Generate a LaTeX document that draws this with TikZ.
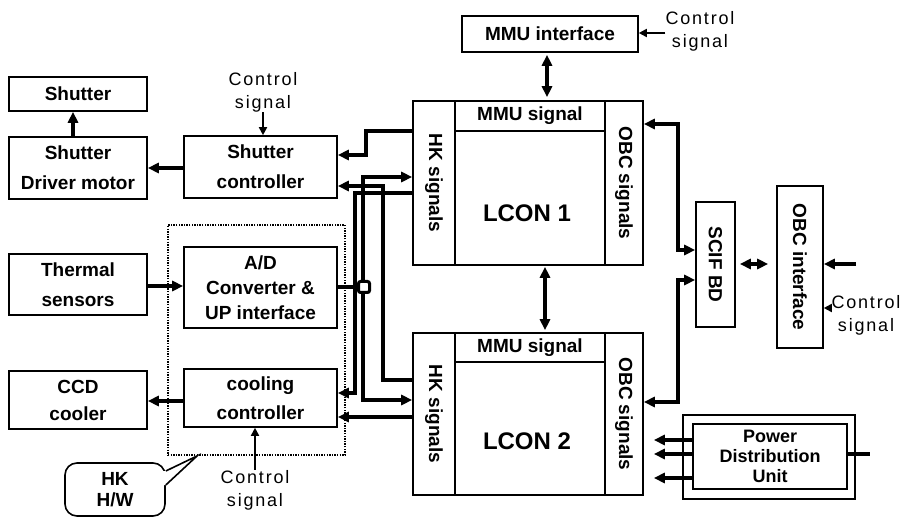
\documentclass[tikz,border=0pt]{standalone}
\usepackage{fontspec}
\usepackage{graphicx}
\setmainfont{Liberation Sans}
\newfontfamily\ctlfont[LetterSpace=10]{Liberation Sans}
\usetikzlibrary{arrows.meta}
\begin{document}
\begin{tikzpicture}[x=1pt,y=-1pt,
  box/.style={draw, line width=1.6pt, inner sep=0pt, align=center,
    font=\bfseries\fontsize{19}{30}\selectfont},
  wire/.style={line width=3.2pt},
  arr/.style={wire, -{Triangle[length=11pt,width=10pt]}},
  darr/.style={wire, {Triangle[length=11pt,width=10pt]}-{Triangle[length=11pt,width=10pt]}},
  ctl/.style={align=center, font=\ctlfont\fontsize{18}{23}\selectfont, inner sep=0pt},
  tarr/.style={line width=1.8pt, -{Triangle[length=8pt,width=8pt]}},
]
\useasboundingbox (0,0) rectangle (912,518);

% HK H/W dotted frame
\node[draw, line width=1.8pt, dash pattern=on 1.4pt off 1.2pt,
  minimum width=177, minimum height=230, inner sep=0pt] (hkbox) at (256.5,340) {};

% left column
\node[box, minimum width=138, minimum height=34] (shutter) at (78,94) {Shutter};
\node[box, minimum width=138, minimum height=62] (drv) at (78,168) {Shutter\\Driver motor};
\node[box, minimum width=138, minimum height=61] (therm) at (78,284.5) {Thermal\\sensors};
\node[box, minimum width=138, minimum height=58, font=\bfseries\fontsize{19}{27}\selectfont] (ccd) at (78,400) {CCD\\cooler};

% controllers
\node[box, minimum width=153, minimum height=62] (shctl) at (260.5,167) {Shutter\\controller};
\node[box, minimum width=153, minimum height=81, font=\bfseries\fontsize{19}{25}\selectfont] (ad) at (260.5,287.5) {A/D\\Converter \&\\UP interface};
\node[box, minimum width=153, minimum height=58, font=\bfseries\fontsize{19}{29}\selectfont] (cool) at (260.5,398) {cooling\\controller};

% MMU interface
\node[box, minimum width=176, minimum height=36] (mmui) at (550,34) {MMU interface};

% LCON 1
\node[box, minimum width=42, minimum height=164] (hk1) at (434,183) {\rotatebox{-90}{HK signals}};
\node[box, minimum width=150, minimum height=30] (mmu1) at (530,116) {MMU signal};
\node[box, minimum width=38, minimum height=164] (obc1) at (624,183) {\rotatebox{-90}{OBC signals}};
\node[box, minimum width=150, minimum height=134] (body1) at (530,198) {};
\node[font=\bfseries\fontsize{24}{28}\selectfont] (l1) at (527,213) {LCON 1};

% LCON 2
\node[box, minimum width=42, minimum height=162] (hk2) at (434,414) {\rotatebox{-90}{HK signals}};
\node[box, minimum width=150, minimum height=29] (mmu2) at (530,347.5) {MMU signal};
\node[box, minimum width=38, minimum height=162] (obc2) at (624,414) {\rotatebox{-90}{OBC signals}};
\node[box, minimum width=150, minimum height=133] (body2) at (530,428.5) {};
\node[font=\bfseries\fontsize{24}{28}\selectfont] (l2) at (527,441) {LCON 2};

% SCIF BD and OBC interface
\node[box, minimum width=39, minimum height=125] (scif) at (715.5,264.5) {\rotatebox{-90}{SCIF BD}};
\node[box, minimum width=46, minimum height=162] (obci) at (800,267) {\rotatebox{-90}{OBC interface}};

% Power distribution unit
\node[box, minimum width=172, minimum height=84] (pdu) at (769,457) {};
\node[box, minimum width=154, minimum height=65, font=\bfseries\fontsize{18}{20}\selectfont] (pdui) at (770,456.5) {Power\\Distribution\\Unit};

% control signal labels
\node[ctl] (c1) at (263,92) {Control\\signal};
\node[ctl] (c2) at (255,490) {Control\\signal};
\node[ctl] (c3) at (700,31) {Control\\signal};
\node[ctl] (c4) at (866,315) {Control\\signal};

% HK H/W callout
\node[draw, line width=1.6pt, rounded corners=12pt, minimum width=100, minimum height=53,
  align=center, inner sep=0pt, font=\bfseries\fontsize{19}{21}\selectfont] (hkhw) at (115,489.5) {HK\\H/W};
\fill[white] (163,471) -- (166.5,471) -- (197,456) -- (166.5,485) -- (163,485) -- cycle;
\draw[line width=1.6pt] (hkhw.east |- 0,471) -- (197,456) -- (hkhw.east |- 0,485);

% left-side connectors
\draw[arr] (drv.north -| 73,0) -- (shutter.south -| 73,0);
\draw[arr] (shctl.west |- 0,168) -- (drv.east |- 0,168);
\draw[arr] (therm.east |- 0,286) -- (ad.west |- 0,286);
\draw[arr] (cool.west |- 0,401) -- (ccd.east |- 0,401);
\draw[tarr] (c1.south) -- (shctl.north -| c1.south);
\draw[tarr] (c2.north) -- (cool.south -| c2.north);

% HK wiring
\draw[arr] (hk1.west |- 0,131) -- (366,131) -- (366,155) -- (shctl.east |- 0,155);
\coordinate (J) at (363,287);
\draw[wire] (ad.east |- J) -- (J);
\draw[arr] (J) -- (363,177) -- (hk1.west |- 0,177);
\draw[arr] (J) -- (363,400) -- (hk2.west |- 0,400);
\draw[arr] (hk2.west |- 0,380) -- (383,380) -- (383,186) -- (shctl.east |- 0,186);
\draw[arr] (hk1.west |- 0,193) -- (355,193) -- (355,393) -- (cool.east |- 0,393);
\draw[arr] (hk2.west |- 0,417) -- (cool.east |- 0,417);
\node[draw, line width=3pt, fill=white, rounded corners=2pt, minimum size=11pt, inner sep=0pt] (jn) at (364,287) {};

% MMU and LCON links
\draw[darr, shorten <=2pt, shorten >=3pt] (mmui.south -| 547,0) -- (mmu1.north -| 547,0);
\draw[darr, shorten <=1pt, shorten >=2pt] (body1.south -| 545,0) -- (mmu2.north -| 545,0);
\draw[tarr] (c3.west |- 0,33) -- (mmui.east |- 0,33);

% OBC wiring
\draw[darr] (obc1.east |- 0,124) -- (678,124) -- (678,250) -- (scif.west |- 0,250);
\draw[darr] (obc2.east |- 0,402) -- (678,402) -- (678,280) -- (scif.west |- 0,280);
\draw[darr, shorten <=4pt, shorten >=8pt] (scif.east |- 0,264) -- (obci.west |- 0,264);
\coordinate (obcin) at (856,264);
\draw[arr] (obcin) -- (obci.east |- obcin);
\draw[tarr] (c4.west |- 0,308) -- (obci.east |- 0,308);

% PDU wiring
\draw[arr, shorten >=10pt] (pdui.west |- 0,440) -- (obc2.east |- 0,440);
\draw[arr, shorten >=10pt] (pdui.west |- 0,454) -- (obc2.east |- 0,454);
\draw[arr, shorten >=10pt] (pdui.west |- 0,478) -- (obc2.east |- 0,478);
\coordinate (pdout) at (870,454);
\draw[wire] (pdui.east |- pdout) -- (pdout);
\end{tikzpicture}
\end{document}
